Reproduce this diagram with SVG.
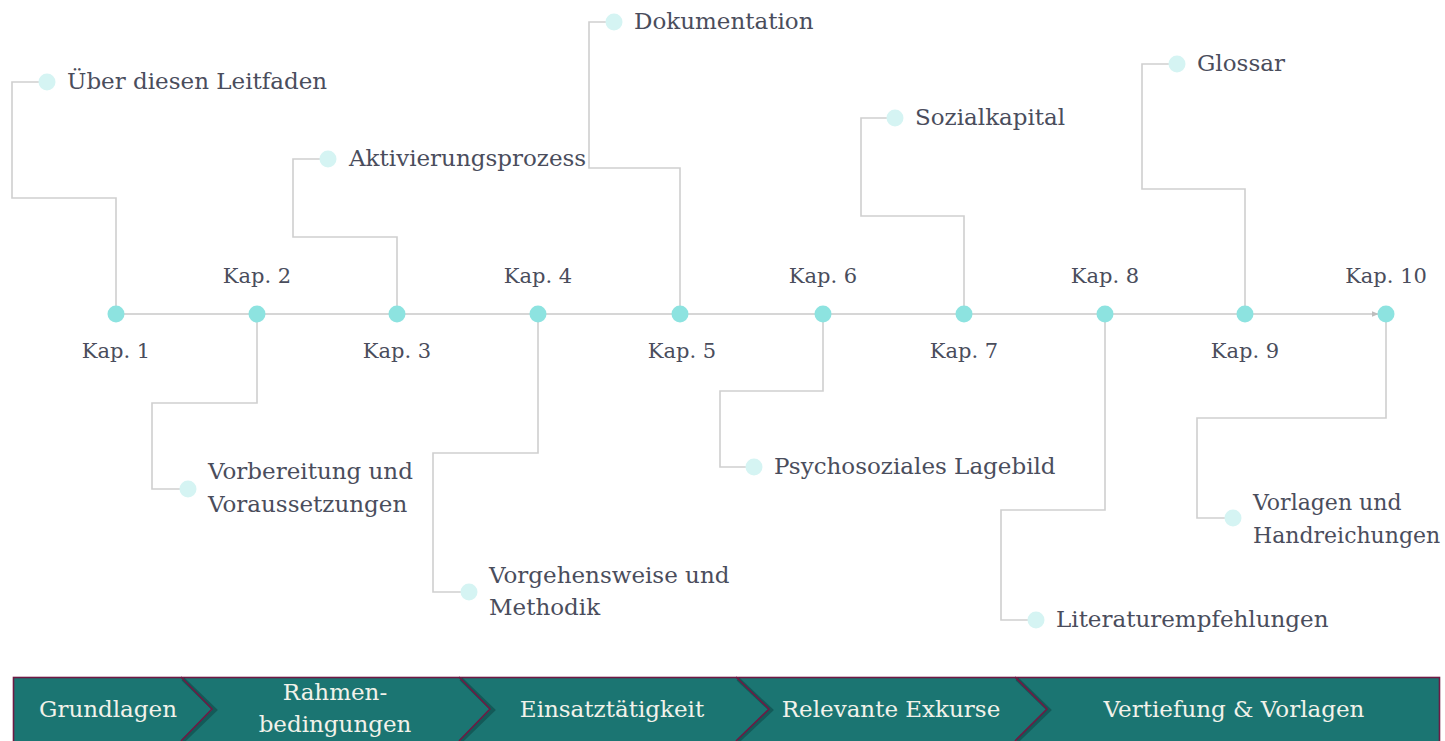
<svg xmlns="http://www.w3.org/2000/svg" width="1445" height="741" viewBox="0 0 1445 741">
<defs>
<style>
.lbl{font-family:"DejaVu Serif","Liberation Serif",serif;font-size:23px;fill:#4a4d5c;}
.sm{font-size:22px;}
.kap{font-family:"DejaVu Serif","Liberation Serif",serif;font-size:21px;fill:#4a4d5c;text-anchor:middle;}
.con{fill:none;stroke:#cfcfcf;stroke-width:1.6;}
.dot{fill:#8de3e0;}
.end{fill:#d5f4f3;}
.bar{font-family:"DejaVu Serif","Liberation Serif",serif;font-size:23px;fill:#f2f2ea;text-anchor:middle;}
.chev{fill:none;stroke:#6e1a44;stroke-width:1.6;}
.chevsh{fill:none;stroke:#0c3a39;stroke-width:4;opacity:0.45;}
</style>
<marker id="arr" viewBox="0 0 10 10" refX="9" refY="5" markerWidth="7" markerHeight="7" orient="auto" markerUnits="userSpaceOnUse">
<path d="M0,1 L10,5 L0,9 z" fill="#bdbdbd"/>
</marker>
</defs>
<rect width="1445" height="741" fill="#ffffff"/>

<g id="connectors">
<line x1="116" y1="314" x2="1378" y2="314" stroke="#c8c8c8" stroke-width="1.6" marker-end="url(#arr)"/>
<polyline class="con" points="116,314 116,198 12,198 12,82 47,82"/>
<polyline class="con" points="257,314 257,403 152,403 152,489 188,489"/>
<polyline class="con" points="397,314 397,237 293,237 293,159 328,159"/>
<polyline class="con" points="538,314 538,453 433,453 433,592 469,592"/>
<polyline class="con" points="680,314 680,168 589,168 589,22 614,22"/>
<polyline class="con" points="823,314 823,391 720,391 720,467 754,467"/>
<polyline class="con" points="964,314 964,216 861,216 861,118 895,118"/>
<polyline class="con" points="1105,314 1105,510 1001,510 1001,620 1036,620"/>
<polyline class="con" points="1245,314 1245,189 1142,189 1142,64 1177,64"/>
<polyline class="con" points="1386,314 1386,418 1197,418 1197,518 1233,518"/>
</g>

<g id="kap1"><circle class="dot" cx="116" cy="314" r="8.5"/><text class="kap" x="116" y="358">Kap. 1</text></g>
<g id="kap2"><circle class="dot" cx="257" cy="314" r="8.5"/><text class="kap" x="257" y="283">Kap. 2</text></g>
<g id="kap3"><circle class="dot" cx="397" cy="314" r="8.5"/><text class="kap" x="397" y="358">Kap. 3</text></g>
<g id="kap4"><circle class="dot" cx="538" cy="314" r="8.5"/><text class="kap" x="538" y="283">Kap. 4</text></g>
<g id="kap5"><circle class="dot" cx="680" cy="314" r="8.5"/><text class="kap" x="682" y="358">Kap. 5</text></g>
<g id="kap6"><circle class="dot" cx="823" cy="314" r="8.5"/><text class="kap" x="823" y="283">Kap. 6</text></g>
<g id="kap7"><circle class="dot" cx="964" cy="314" r="8.5"/><text class="kap" x="964" y="358">Kap. 7</text></g>
<g id="kap8"><circle class="dot" cx="1105" cy="314" r="8.5"/><text class="kap" x="1105" y="283">Kap. 8</text></g>
<g id="kap9"><circle class="dot" cx="1245" cy="314" r="8.5"/><text class="kap" x="1245" y="358">Kap. 9</text></g>
<g id="kap10"><circle class="dot" cx="1386" cy="314" r="8.5"/><text class="kap" x="1386" y="283">Kap. 10</text></g>

<g id="t1"><circle class="end" cx="47" cy="82" r="8.5"/><text class="lbl" x="67" y="89">Über diesen Leitfaden</text></g>
<g id="t2"><circle class="end" cx="188" cy="489" r="8.5"/><text class="lbl" x="208" y="479">Vorbereitung und</text><text class="lbl" x="208" y="512">Voraussetzungen</text></g>
<g id="t3"><circle class="end" cx="328" cy="159" r="8.5"/><text class="lbl" x="349" y="166">Aktivierungsprozess</text></g>
<g id="t4"><circle class="end" cx="469" cy="592" r="8.5"/><text class="lbl" x="489" y="583">Vorgehensweise und</text><text class="lbl" x="489" y="615">Methodik</text></g>
<g id="t5"><circle class="end" cx="614" cy="22" r="8.5"/><text class="lbl" x="634" y="29">Dokumentation</text></g>
<g id="t6"><circle class="end" cx="754" cy="467" r="8.5"/><text class="lbl" x="774" y="474">Psychosoziales Lagebild</text></g>
<g id="t7"><circle class="end" cx="895" cy="118" r="8.5"/><text class="lbl" x="915" y="125">Sozialkapital</text></g>
<g id="t8"><circle class="end" cx="1036" cy="620" r="8.5"/><text class="lbl" x="1056" y="627">Literaturempfehlungen</text></g>
<g id="t9"><circle class="end" cx="1177" cy="64" r="8.5"/><text class="lbl" x="1197" y="71">Glossar</text></g>
<g id="t10"><circle class="end" cx="1233" cy="518" r="8.5"/><text class="lbl sm" x="1253" y="510">Vorlagen und</text><text class="lbl sm" x="1253" y="543">Handreichungen</text></g>

<g id="phasebar">
<rect x="13.5" y="677.5" width="1426" height="80" fill="#1b7572" stroke="#6e1a44" stroke-width="1.6"/>
<polyline class="chevsh" points="183,679 215,710 183,741"/>
<polyline class="chev" points="181,677 212,709 181,741"/>
<polyline class="chevsh" points="461,679 493,710 461,741"/>
<polyline class="chev" points="459,677 490,709 459,741"/>
<polyline class="chevsh" points="738,679 771,710 738,741"/>
<polyline class="chev" points="736,677 769,709 736,741"/>
<polyline class="chevsh" points="1017,679 1049,710 1017,741"/>
<polyline class="chev" points="1015,677 1047,709 1015,741"/>
<text class="bar" x="108" y="717">Grundlagen</text>
<text class="bar" x="335" y="700">Rahmen-</text>
<text class="bar" x="335" y="732">bedingungen</text>
<text class="bar" x="612" y="717">Einsatztätigkeit</text>
<text class="bar" x="891" y="717">Relevante Exkurse</text>
<text class="bar" x="1234" y="717">Vertiefung &amp; Vorlagen</text>
</g>
</svg>
